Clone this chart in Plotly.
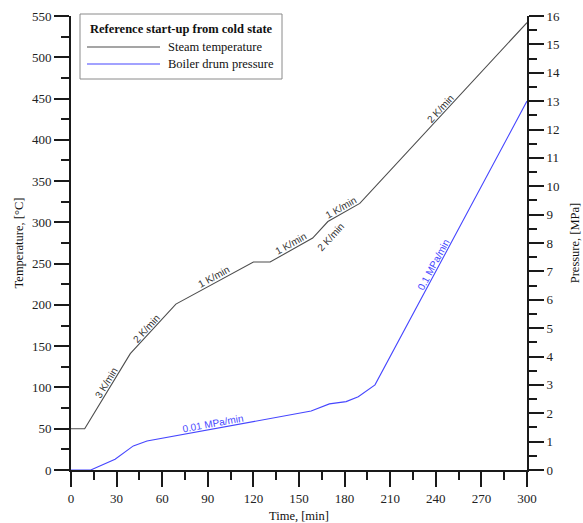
import math
import numpy as np
import plotly.graph_objects as go

# Steam temperature during the reference cold start-up
time_temp = [0, 9, 39, 69, 120, 131, 159, 169, 190, 300]
steam_temp = [50, 50, 141, 201, 252, 252, 281, 301, 323, 542]

# Boiler drum pressure during the same start-up
time_pres = [0, 13, 29, 41, 50, 158, 170, 181, 189, 200, 300]
drum_pres = [0, 0, 0.38, 0.85, 1.02, 2.08, 2.33, 2.41, 2.58, 3.0, 13.0]

# Rate labels written along the curves: (text, series, time, offset from curve in px)
rate_labels = [
    ("3 K/min", "T", 26.4, 5.5),
    ("2 K/min", "T", 52.2, 5.5),
    ("1 K/min", "T", 96.0, 5.5),
    ("1 K/min", "T", 146.6, 5.5),
    ("2 K/min", "T", 165.0, -13),
    ("1 K/min", "T", 179.5, 5.5),
    ("2 K/min", "T", 245.7, 5.5),
    ("0.1 MPa/min", "P", 241.6, 5.5),
    ("0.01 MPa/min", "P", 94.1, 5.5),
]

x_ticks = list(range(0, 301, 30))
temp_ticks = list(range(0, 551, 50))
pres_ticks = list(range(0, 17, 1))

legend_title = "Reference start-up from cold state"
series_names = ["Steam temperature", "Boiler drum pressure"]

TEMP_COLOR = "#4d4d4d"
PRES_COLOR = "#4646ff"
AXIS_COLOR = "#1a1a1a"
SERIF = "Liberation Serif"
SANS = "Liberation Sans"

W, H = 583, 523
M_L, M_R, M_T, M_B = 71, 56, 16, 53
PW, PH = W - M_L - M_R, H - M_T - M_B
X_MAX, T_MAX, P_MAX = 300, 550, 16


def paper_x(px):
    return (px - M_L) / PW


def paper_y(py):
    return (H - M_B - py) / PH


fig = go.Figure()
fig.add_trace(go.Scatter(x=time_temp, y=steam_temp, mode="lines",
                         line=dict(color=TEMP_COLOR, width=1.1),
                         name=series_names[0], yaxis="y", showlegend=False))
fig.add_trace(go.Scatter(x=time_pres, y=drum_pres, mode="lines",
                         line=dict(color=PRES_COLOR, width=1.1),
                         name=series_names[1], yaxis="y2", showlegend=False))

series = {
    "T": (time_temp, steam_temp, T_MAX, "y", "#333333"),
    "P": (time_pres, drum_pres, P_MAX, "y2", PRES_COLOR),
}

annotations = []
for text, key, t, off in rate_labels:
    xs, ys, vmax, yref, col = series[key]
    v = float(np.interp(t, xs, ys))
    i = max(k for k in range(len(xs) - 1) if xs[k] <= t)
    slope = (ys[i + 1] - ys[i]) / (xs[i + 1] - xs[i])
    theta = math.atan(slope * (PH / vmax) / (PW / X_MAX))
    annotations.append(dict(
        x=t, y=v, xref="x", yref=yref, text=text, showarrow=False,
        textangle=-math.degrees(theta), xanchor="center", yanchor="middle",
        xshift=-off * math.sin(theta), yshift=off * math.cos(theta),
        font=dict(family=SANS, size=10, color=col)))

# Legend box drawn with shapes and text
shapes = [dict(type="rect", xref="paper", yref="paper",
               x0=paper_x(80), x1=paper_x(282), y0=paper_y(79), y1=paper_y(14),
               line=dict(color="#8a8a8a", width=1), fillcolor="white", layer="above")]
annotations.append(dict(x=paper_x(181), y=paper_y(29), xref="paper", yref="paper",
                        text="<b>" + legend_title + "</b>", showarrow=False,
                        xanchor="center", yanchor="middle",
                        font=dict(family=SERIF, size=12.5, color="#111111")))
for i, (name, col) in enumerate(zip(series_names, [TEMP_COLOR, PRES_COLOR])):
    yy = paper_y(47 + 17 * i)
    shapes.append(dict(type="line", xref="paper", yref="paper",
                       x0=paper_x(87), x1=paper_x(160), y0=yy, y1=yy,
                       line=dict(color=col, width=1.1), layer="above"))
    annotations.append(dict(x=paper_x(166), y=yy, xref="paper", yref="paper",
                            text=name, showarrow=False, xanchor="left",
                            yanchor="middle",
                            font=dict(family=SERIF, size=12.5, color="#111111")))

axis_common = dict(showgrid=False, zeroline=False, showline=True, automargin=False,
                   linecolor=AXIS_COLOR, linewidth=2, ticks="outside",
                   ticklen=15, tickwidth=2, tickcolor=AXIS_COLOR,
                   tickfont=dict(family=SERIF, size=13, color="#222222"))

fig.update_layout(
    width=W, height=H,
    margin=dict(l=M_L, r=M_R, t=M_T, b=M_B),
    paper_bgcolor="white", plot_bgcolor="white",
    showlegend=False,
    xaxis=dict(range=[0, X_MAX], tickvals=x_ticks,
               title=dict(text="Time, [min]", font=dict(family=SERIF, size=12.5, color="#111111"),
                          standoff=7),
               minor=dict(dtick=15, ticklen=8, ticks="outside", tickwidth=2, tickcolor=AXIS_COLOR),
               **axis_common),
    yaxis=dict(range=[0, T_MAX], tickvals=temp_ticks,
               title=dict(text="Temperature, [°C]", font=dict(family=SERIF, size=12.5, color="#111111"),
                          standoff=6),
               minor=dict(dtick=25, ticklen=8, ticks="outside", tickwidth=2, tickcolor=AXIS_COLOR),
               **axis_common),
    yaxis2=dict(range=[0, P_MAX], tickvals=pres_ticks, overlaying="y", side="right",
                title=dict(text="Pressure, [MPa]", font=dict(family=SERIF, size=12.5, color="#111111"),
                           standoff=11),
                minor=dict(dtick=0.5, ticklen=8, ticks="outside", tickwidth=2, tickcolor=AXIS_COLOR),
                **axis_common),
    shapes=shapes,
    annotations=annotations,
)

fig.write_html("out.html")
